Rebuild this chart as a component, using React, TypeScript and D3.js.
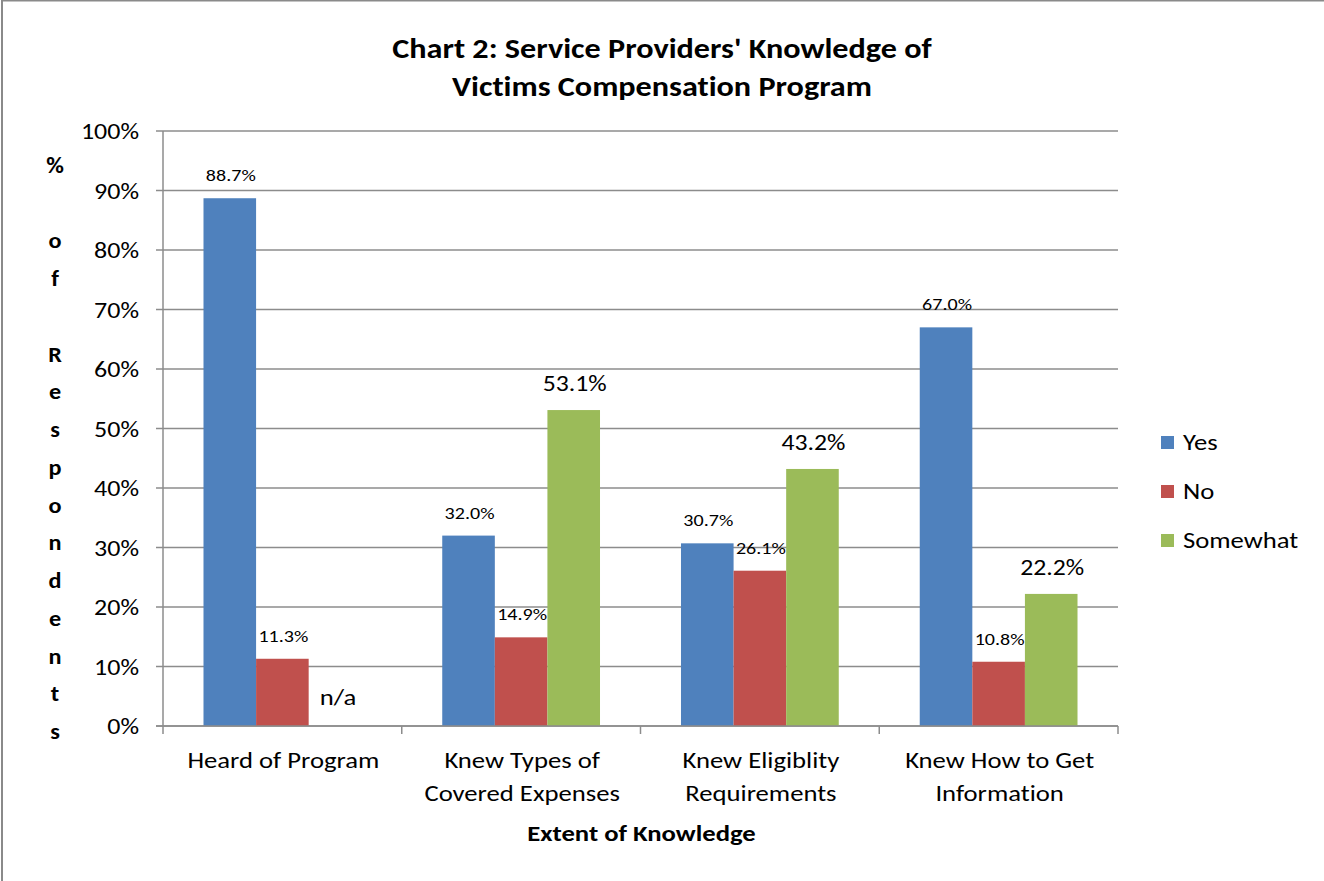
import React from "react";
import * as d3 from "d3";

const categories: string[][] = [
  ["Heard of Program"],
  ["Knew Types of", "Covered Expenses"],
  ["Knew Eligiblity", "Requirements"],
  ["Knew How to Get", "Information"],
];
const seriesNames = ["Yes", "No", "Somewhat"];
const seriesColors = ["#4F81BD", "#C0504D", "#9BBB59"];
const yesValues = [88.7, 32.0, 30.7, 67.0];
const noValues = [11.3, 14.9, 26.1, 10.8];
const somewhatValues: (number | null)[] = [null, 53.1, 43.2, 22.2];
const yTicks = [0, 10, 20, 30, 40, 50, 60, 70, 80, 90, 100];
const titleLines = ["Chart 2: Service Providers' Knowledge of", "Victims Compensation Program"];
const yTitle = "% of Respondents";
const xTitle = "Extent of Knowledge";

const W = 1324;
const H = 881;
const FONT = "Calibri, Carlito, Lato, 'Open Sans', sans-serif";
const SX = 1.16;

type STextProps = {
  x: number;
  y: number;
  size: number;
  anchor?: "start" | "middle" | "end";
  bold?: boolean;
  sx?: number;
  children: React.ReactNode;
};

function SText({ x, y, size, anchor = "start", bold = false, sx = SX, children }: STextProps) {
  return (
    <text
      transform={`translate(${x},${y}) scale(${sx},1)`}
      textAnchor={anchor}
      fontSize={size}
      fontWeight={bold ? "bold" : "normal"}
      fill="#000"
      style={{ fontVariantLigatures: "none", fontFeatureSettings: '"liga" 0, "clig" 0, "dlig" 0' }}
    >
      {children}
    </text>
  );
}

export default function App() {
  const left = 163, right = 1118, top = 131, bottom = 726;
  const x = d3.scaleBand<number>().domain(d3.range(categories.length)).range([left, right]).padding(0);
  const inner = d3
    .scaleBand<number>()
    .domain([0, 1, 2])
    .range([0, x.bandwidth()])
    .paddingInner(0)
    .paddingOuter(0.77);
  const y = d3.scaleLinear().domain([0, 100]).range([bottom, top]);
  const series = [yesValues, noValues, somewhatValues];
  const grid = "#8c8c8c";

  const yTitleChars = yTitle.split("");
  const yTitleStep = d3.scaleLinear().domain([0, yTitleChars.length - 1]).range([165, 731]);

  return (
    <svg width={W} height={H} style={{ position: "absolute", left: 0, top: 0, background: "#fff" }} fontFamily={FONT}>
      <rect x={0} y={0} width={W} height={H} fill="#fff" />
      <line x1={2} y1={0} x2={2} y2={H} stroke="#8a8a8a" strokeWidth={2} />
      <line x1={2} y1={0.5} x2={W} y2={0.5} stroke="#8a8a8a" strokeWidth={2} />

      {titleLines.map((t, i) => (
        <SText key={t} x={662} y={58 + i * 38} size={28} anchor="middle" bold sx={1.15}>
          {t}
        </SText>
      ))}

      {yTicks.map((t) => (
        <g key={t}>
          <line x1={left - 7} x2={right} y1={y(t)} y2={y(t)} stroke={grid} strokeWidth={1.5} />
          <SText x={139} y={y(t) + 8} size={23} anchor="end" sx={1.13}>
            {t}%
          </SText>
        </g>
      ))}
      <line x1={left} x2={left} y1={top} y2={bottom} stroke={grid} strokeWidth={1.5} />
      {d3.range(categories.length + 1).map((i) => {
        const xx = i < categories.length ? (x(i) as number) : right;
        return <line key={i} x1={xx} x2={xx} y1={bottom} y2={bottom + 8} stroke={grid} strokeWidth={1.5} />;
      })}

      {series.map((vals, s) =>
        vals.map((v, c) => {
          const bx = (x(c) as number) + (inner(s) as number);
          const bw = inner.bandwidth();
          const cx = bx + bw / 2;
          const big = s === 2;
          if (v === null) {
            return (
              <SText key={`${s}-${c}`} x={cx + 3} y={y(0) - 21} size={23} anchor="middle">
                n/a
              </SText>
            );
          }
          return (
            <g key={`${s}-${c}`}>
              <rect x={bx} y={y(v)} width={bw} height={y(0) - y(v)} fill={seriesColors[s]} />
              <SText
                x={cx + 1}
                y={y(v) - (big ? 19 : 17)}
                size={big ? 23 : 17}
                anchor="middle"
                sx={big ? 1.12 : 1.18}
              >
                {v.toFixed(1)}%
              </SText>
            </g>
          );
        })
      )}
      <line x1={left - 7} x2={right} y1={bottom} y2={bottom} stroke={grid} strokeWidth={1.5} />

      {categories.map((lines, i) =>
        lines.map((l, j) => (
          <SText key={`${i}-${j}`} x={(x(i) as number) + x.bandwidth() / 2 + 1} y={768 + j * 33} size={23} anchor="middle">
            {l}
          </SText>
        ))
      )}

      <SText x={(left + right) / 2 + 1} y={841} size={23} anchor="middle" bold>
        {xTitle}
      </SText>

      {yTitleChars.map((ch, i) =>
        ch === " " ? null : (
          <SText key={i} x={55} y={yTitleStep(i) + 8} size={22} anchor="middle" bold sx={1.1}>
            {ch}
          </SText>
        )
      )}

      {seriesNames.map((n, i) => (
        <g key={n}>
          <rect x={1161} y={436 + i * 49} width={13} height={13} fill={seriesColors[i]} />
          <SText x={1183} y={450 + i * 49} size={23}>
            {n}
          </SText>
        </g>
      ))}
    </svg>
  );
}
